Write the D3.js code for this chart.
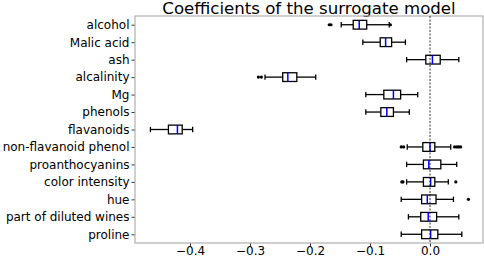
<!DOCTYPE html>
<html>
<head>
<meta charset="utf-8">
<script src="https://cdn.jsdelivr.net/npm/d3@7"></script>
<style>
  body { margin: 0; background: #fff; }
  svg text { font-family: "DejaVu Sans", sans-serif; fill: #000; }
</style>
</head>
<body>
<svg id="chart" width="484" height="258"></svg>
<script>
const features = ["alcohol", "Malic acid", "ash", "alcalinity", "Mg", "phenols", "flavanoids",
  "non-flavanoid phenol", "proanthocyanins", "color intensity", "hue", "part of diluted wines", "proline"];

// box stats: [whisker low, q1, median, q3, whisker high]
const whiskerLow = [-0.148, -0.112, -0.039, -0.275, -0.107, -0.107, -0.466, -0.038, -0.039, -0.039, -0.048, -0.036, -0.048];
const q1 = [-0.128, -0.083, -0.007, -0.2455, -0.077, -0.082, -0.436, -0.012, -0.011, -0.011, -0.014, -0.0155, -0.014];
const median = [-0.118, -0.074, 0.004, -0.237, -0.061, -0.072, -0.421, 0.0, -0.002, 0.001, -0.0045, -0.003, 0.001];
const q3 = [-0.1055, -0.064, 0.017, -0.222, -0.049, -0.061, -0.413, 0.008, 0.018, 0.008, 0.010, 0.011, 0.013];
const whiskerHigh = [-0.068, -0.041, 0.048, -0.1905, -0.0205, -0.0345, -0.3956, 0.0345, 0.0445, 0.0305, 0.039, 0.048, 0.053];
const fliers = [
  [-0.168, -0.165, -0.066], [], [], [-0.286, -0.281], [], [], [],
  [-0.048, -0.044, 0.041, 0.045, 0.048, 0.051], [], [-0.047, -0.045, 0.043], [0.064], [], []
];
const xTicks = [-0.4, -0.3, -0.2, -0.1, 0.0];

const rows = features.map((name, i) => ({
  name, lo: whiskerLow[i], q1: q1[i], med: median[i], q3: q3[i], hi: whiskerHigh[i], fliers: fliers[i]
}));

const svg = d3.select("#chart");
const margin = { left: 135, right: 1, top: 16, bottom: 15 };
const width = 484, height = 258;
const x0 = margin.left, x1 = width - margin.right;
const y0 = margin.top, y1 = height - margin.bottom;

const x = d3.scaleLinear().domain([-0.4917, 0.0883]).range([x0, x1]);
const y = d3.scalePoint().domain(features).range([y0, y1]).padding(0.5);
const boxH = y.step() * 0.5;
const capH = boxH * 0.5;

// title
svg.append("text")
  .attr("x", (x0 + x1) / 2).attr("y", 14)
  .attr("text-anchor", "middle")
  .style("font-size", "16.6px")
  .text("Coefficients of the surrogate model");

// axes
const xAxis = svg.append("g")
  .attr("transform", `translate(0,${y1})`)
  .call(d3.axisBottom(x).tickValues(xTicks).tickSize(3.5).tickPadding(0)
    .tickFormat(d => d3.format(".1f")(d).replace("-", "\u2212")));
const yAxis = svg.append("g")
  .attr("transform", `translate(${x0},0)`)
  .call(d3.axisLeft(y).tickSize(3.5).tickPadding(2));

[xAxis, yAxis].forEach(g => {
  g.select(".domain").remove();
  g.selectAll(".tick line").attr("stroke", "#000").attr("stroke-width", 0.8);
  g.selectAll(".tick text").style("font-size", "12px").attr("fill", "#000");
});

// frame
svg.append("rect")
  .attr("x", x0).attr("y", y0).attr("width", x1 - x0).attr("height", y1 - y0)
  .attr("fill", "none").attr("stroke", "#b0b0b0").attr("stroke-width", 1.2);

// boxes
const box = svg.append("g").selectAll("g")
  .data(rows)
  .join("g")
  .attr("transform", d => `translate(0,${y(d.name)})`);

box.append("line")
  .attr("x1", d => x(d.lo)).attr("x2", d => x(d.q1))
  .attr("stroke", "#000").attr("stroke-width", 1.3);
box.append("line")
  .attr("x1", d => x(d.q3)).attr("x2", d => x(d.hi))
  .attr("stroke", "#000").attr("stroke-width", 1.3);
box.selectAll(".cap")
  .data(d => [d.lo, d.hi])
  .join("line")
  .attr("class", "cap")
  .attr("x1", v => x(v)).attr("x2", v => x(v))
  .attr("y1", -capH / 2 - 0.5).attr("y2", capH / 2 + 0.5)
  .attr("stroke", "#000").attr("stroke-width", 1.3);
box.append("rect")
  .attr("x", d => x(d.q1)).attr("width", d => x(d.q3) - x(d.q1))
  .attr("y", -boxH / 2).attr("height", boxH)
  .attr("fill", "#fff").attr("stroke", "#000").attr("stroke-width", 1.3);
box.append("line")
  .attr("x1", d => x(d.med)).attr("x2", d => x(d.med))
  .attr("y1", -boxH / 2).attr("y2", boxH / 2)
  .attr("stroke", "#0000ff").attr("stroke-width", 1.5);
box.selectAll(".flier")
  .data(d => d.fliers)
  .join("circle")
  .attr("class", "flier")
  .attr("cx", v => x(v)).attr("cy", 0).attr("r", 1.6)
  .attr("fill", "#000");

// dashed zero line drawn over the boxes, as in the reference
svg.append("line")
  .attr("x1", x(0)).attr("x2", x(0)).attr("y1", y0).attr("y2", y1)
  .attr("stroke", "#000").attr("stroke-width", 0.8).attr("stroke-dasharray", "2,1.5");
</script>
</body>
</html>
